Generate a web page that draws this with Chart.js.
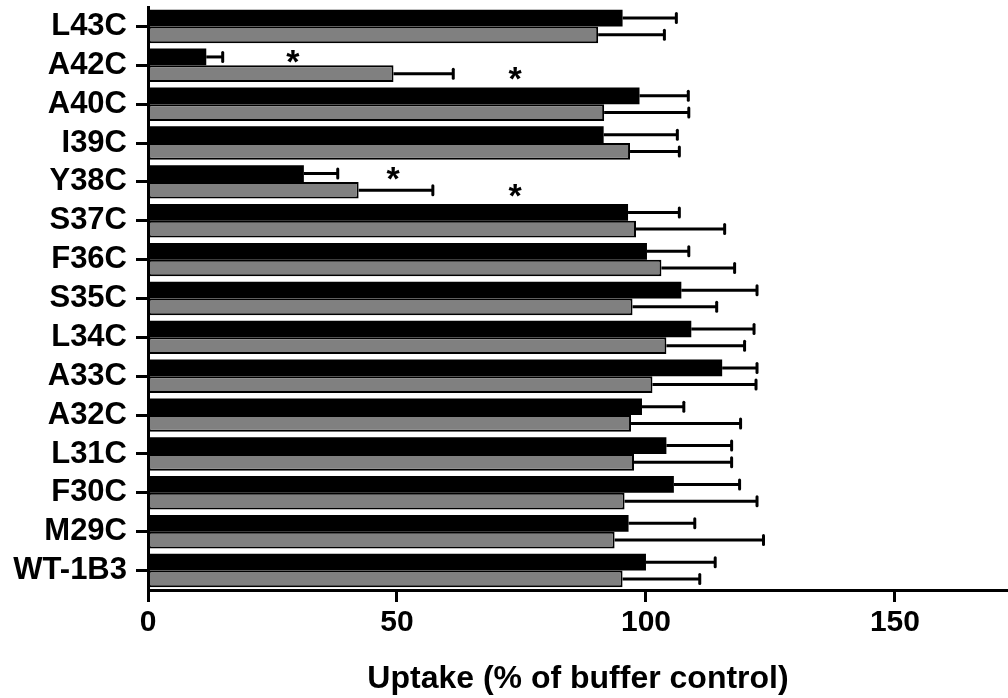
<!DOCTYPE html>
<html>
<head>
<meta charset="utf-8">
<script src="https://cdn.jsdelivr.net/npm/chart.js@4"></script>
<style>
  html, body { margin: 0; padding: 0; background: #fff; }
  #wrap { width: 1008px; height: 698px; position: relative; }
</style>
</head>
<body>
<div id="wrap"><canvas id="c"></canvas></div>
<script>
const categories = ['L43C','A42C','A40C','I39C','Y38C','S37C','F36C','S35C','L34C','A33C','A32C','L31C','F30C','M29C','WT-1B3'];
const blackValues = [95.3, 11.7, 98.7, 91.5, 31.3, 96.4, 100.2, 107.1, 109.1, 115.3, 99.2, 104.1, 105.6, 96.5, 100.0];
const blackErrors = [10.8, 3.3, 9.8, 14.8, 6.8, 10.3, 8.4, 15.2, 12.6, 7.0, 8.4, 13.1, 13.2, 13.3, 13.9];
const grayValues  = [90.4, 49.3, 91.6, 96.8, 42.3, 98.0, 103.1, 97.3, 104.1, 101.3, 97.0, 97.6, 95.7, 93.7, 95.3];
const grayErrors  = [13.3, 12.0, 17.0, 9.9, 14.9, 17.8, 14.7, 16.9, 15.7, 20.8, 22.0, 19.6, 26.6, 29.9, 15.5];
const blackStars  = [null, 29.1, null, null, 49.2, null, null, null, null, null, null, null, null, null, null];
const grayStars   = [null, 73.7, null, null, 73.7, null, null, null, null, null, null, null, null, null, null];
const xTicks = [0, 50, 100, 150];
const xMax = 172.7;
const xTitle = 'Uptake (% of buffer control)';

const FONT = '"Liberation Sans", Arial, Helvetica, sans-serif';
Chart.defaults.color = '#000';
Chart.defaults.font.family = FONT;

const errorPlugin = {
  id: 'errorBarsAndStars',
  afterDatasetsDraw(chart) {
    const ctx = chart.ctx;
    const xs = chart.scales.x;
    const errs = [blackErrors, grayErrors];
    const stars = [blackStars, grayStars];
    ctx.save();
    ctx.strokeStyle = '#000';
    ctx.fillStyle = '#000';
    ctx.lineWidth = 3;
    chart.data.datasets.forEach((ds, di) => {
      const meta = chart.getDatasetMeta(di);
      meta.data.forEach((el, i) => {
        const v = ds.data[i];
        const e = errs[di][i];
        const x0 = xs.getPixelForValue(v);
        const x1 = xs.getPixelForValue(v + e);
        const y = el.y;
        ctx.lineCap = 'butt';
        ctx.beginPath();
        ctx.moveTo(x0, y);
        ctx.lineTo(x1, y);
        ctx.stroke();
        ctx.lineCap = 'round';
        ctx.beginPath();
        ctx.moveTo(x1, y - 4.5);
        ctx.lineTo(x1, y + 4.5);
        ctx.stroke();
        const s = stars[di][i];
        if (s !== null && s !== undefined) {
          ctx.font = 'bold 34px ' + FONT;
          ctx.textAlign = 'center';
          ctx.textBaseline = 'alphabetic';
          const m = ctx.measureText('*');
          const off = (m.actualBoundingBoxAscent - m.actualBoundingBoxDescent) / 2;
          ctx.fillText('*', xs.getPixelForValue(s), y + off);
        }
      });
    });
    ctx.restore();
  }
};

new Chart(document.getElementById('c'), {
  type: 'bar',
  data: {
    labels: categories,
    datasets: [
      { data: blackValues, backgroundColor: '#000', borderColor: '#000', borderWidth: 0,
        categoryPercentage: 0.86, barPercentage: 1.0 },
      { data: grayValues, backgroundColor: '#808080', borderColor: '#000', borderWidth: 2, borderSkipped: false,
        categoryPercentage: 0.86, barPercentage: 1.0 }
    ]
  },
  options: {
    indexAxis: 'y',
    responsive: true,
    maintainAspectRatio: false,
    animation: false,
    layout: { padding: { top: 7, right: 0, bottom: 0, left: 0 } },
    plugins: { legend: { display: false }, tooltip: { enabled: false } },
    scales: {
      x: {
        min: 0, max: xMax,
        afterBuildTicks(scale) { scale.ticks = xTicks.map(v => ({ value: v })); },
        afterFit(scale) { scale.height = 108; },
        grid: { drawOnChartArea: false, drawTicks: true, tickLength: 12, tickWidth: 3, tickColor: '#000' },
        border: { display: true, color: '#000', width: 3 },
        ticks: { padding: 3, font: { size: 30, weight: 'bold' }, color: '#000', maxRotation: 0 },
        title: { display: true, text: xTitle, color: '#000', font: { size: 32, weight: 'bold' }, padding: { top: 20, bottom: 0 } }
      },
      y: {
        afterFit(scale) { scale.width = 148; scale.paddingTop = 0; scale.paddingBottom = 0; },
        grid: { drawOnChartArea: false, drawTicks: true, tickLength: 12, tickWidth: 3, tickColor: '#000', offset: false },
        border: { display: true, color: '#000', width: 3 },
        ticks: { padding: 9, font: { size: 31, weight: 'bold' }, color: '#000', autoSkip: false }
      }
    }
  },
  plugins: [errorPlugin]
});
</script>
</body>
</html>
